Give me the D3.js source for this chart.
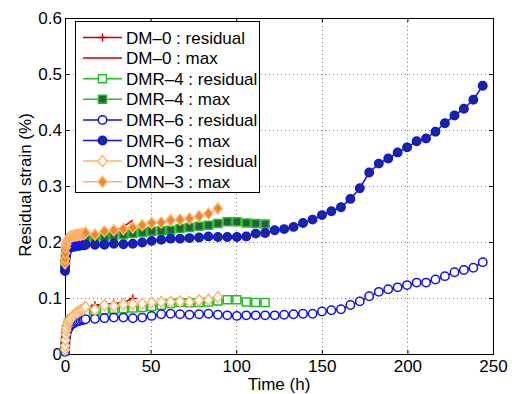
<!DOCTYPE html>
<html><head><meta charset="utf-8">
<script src="https://cdn.jsdelivr.net/npm/d3@7"></script>
<style>body{margin:0;background:#fff}svg{display:block}text{font-family:"Liberation Sans",Arial,sans-serif}</style>
</head><body><svg id="c" width="512" height="394"></svg>
<script>
// Shared sampling times (h)
const hours = [0, 0.1, 0.25, 0.5, 0.75, 1, 1.5, 2, 2.5, 3, 4, 5, 6, 7, 8, 9, 10, 11,
  12.0, 17.5, 23.0, 28.5, 34.1, 39.6, 45.1, 50.6, 56.2, 61.7, 67.2, 72.7, 78.3, 83.8, 89.3,
  94.8, 100.4, 105.9, 111.4, 116.9, 122.5, 128.0, 133.5, 139.0, 144.6, 150.1, 155.6, 161.2,
  166.7, 172.2, 177.7, 183.3, 188.8, 194.3, 199.8, 205.4, 210.9, 216.4, 221.9, 227.5, 233.0,
  238.5, 244.0];

const dm0Residual = [0.008, 0.016, 0.026, 0.037, 0.044, 0.049, 0.056, 0.060, 0.063, 0.066, 0.069, 0.071, 0.073, 0.075, 0.076, 0.077, 0.078, 0.079,
  0.083, 0.087, 0.089, 0.090, 0.092, 0.099];
const dm0Max = [0.160, 0.168, 0.176, 0.186, 0.192, 0.196, 0.199, 0.201, 0.202, 0.203, 0.204, 0.205, 0.205, 0.206, 0.206, 0.206, 0.207, 0.207,
  0.207, 0.212, 0.216, 0.220, 0.227, 0.239];

const dmr4Residual = [0.006, 0.013, 0.022, 0.032, 0.039, 0.044, 0.050, 0.054, 0.057, 0.059, 0.062, 0.064, 0.066, 0.068, 0.069, 0.070, 0.071, 0.072,
  0.074, 0.077, 0.079, 0.080, 0.081, 0.082, 0.083, 0.085, 0.087, 0.090, 0.092, 0.0915, 0.092, 0.093, 0.0946, 0.097, 0.097, 0.093, 0.092, 0.092];
const dmr4Max = [0.155, 0.162, 0.170, 0.180, 0.186, 0.190, 0.194, 0.196, 0.197, 0.198, 0.199, 0.200, 0.201, 0.202, 0.202, 0.203, 0.204, 0.204,
  0.205, 0.207, 0.209, 0.211, 0.213, 0.215, 0.217, 0.219, 0.220, 0.221, 0.224, 0.226, 0.228, 0.230, 0.233, 0.236, 0.236, 0.234, 0.233, 0.232];

const dmr6Residual = [0.004, 0.010, 0.018, 0.027, 0.033, 0.038, 0.043, 0.046, 0.049, 0.051, 0.053, 0.055, 0.057, 0.058, 0.059, 0.060, 0.061, 0.061,
  0.062, 0.063, 0.064, 0.065, 0.065, 0.064, 0.065, 0.068, 0.071, 0.072, 0.071, 0.070, 0.071, 0.072, 0.070,
  0.069, 0.068, 0.069, 0.069, 0.069, 0.069, 0.070, 0.071, 0.072, 0.072, 0.076, 0.078, 0.080,
  0.0875, 0.094, 0.103, 0.111, 0.1155, 0.119, 0.123, 0.1275, 0.1275, 0.133, 0.139, 0.146, 0.150,
  0.154, 0.164];
const dmr6Max = [0.148, 0.155, 0.163, 0.172, 0.178, 0.182, 0.186, 0.188, 0.189, 0.190, 0.191, 0.192, 0.192, 0.193, 0.193, 0.194, 0.194, 0.194,
  0.195, 0.195, 0.195, 0.197, 0.196, 0.197, 0.199, 0.202, 0.204, 0.206, 0.206, 0.207, 0.208, 0.210, 0.209,
  0.209, 0.209, 0.210, 0.215, 0.216, 0.221, 0.223, 0.227, 0.234, 0.240, 0.248, 0.255, 0.262,
  0.277, 0.296, 0.324, 0.340, 0.349, 0.360, 0.369, 0.380, 0.385, 0.397, 0.412, 0.426, 0.438,
  0.454, 0.479];

const dmn3Residual = [0.008, 0.015, 0.025, 0.035, 0.042, 0.047, 0.053, 0.057, 0.060, 0.062, 0.066, 0.069, 0.072, 0.074, 0.076, 0.078, 0.079, 0.081,
  0.084, 0.079, 0.087, 0.0857, 0.0888, 0.0888, 0.090, 0.0918, 0.093, 0.093, 0.094, 0.093, 0.096, 0.097, 0.102];
const dmn3Max = [0.162, 0.170, 0.180, 0.190, 0.196, 0.200, 0.204, 0.206, 0.208, 0.209, 0.210, 0.211, 0.212, 0.212, 0.213, 0.213, 0.214, 0.214,
  0.2167, 0.213, 0.219, 0.221, 0.2227, 0.2257, 0.230, 0.234, 0.2346, 0.2388, 0.240, 0.2418, 0.246, 0.2507, 0.2597];

const legendLabels = ["DM–0 : residual", "DM–0 : max", "DMR–4 : residual", "DMR–4 : max",
  "DMR–6 : residual", "DMR–6 : max", "DMN–3 : residual", "DMN–3 : max"];
const xTicks = [0, 50, 100, 150, 200, 250];
const yTicks = [0, 0.1, 0.2, 0.3, 0.4, 0.5, 0.6];
const xLabel = "Time (h)";
const yLabel = "Residual strain (%)";

const FS = 17;
const RED = "#cc0000", GREEN = "#1fc01f", BLUE = "#1010f0", ORANGE = "#ffb36e";
const shapes = {
  plus: "M-4,0H4M0,-4V4",
  square: "M-4,-4H4V4H-4Z",
  circle: "M4.2,0A4.2,4.2 0 1,1 -4.2,0A4.2,4.2 0 1,1 4.2,0Z",
  diamond: "M0,-5.5L4.5,0L0,5.5L-4.5,0Z",
  none: null
};
const series = [
  {values: dm0Residual, color: RED, shape: "plus", fill: "none"},
  {values: dm0Max, color: RED, shape: "none", fill: "none"},
  {values: dmr4Residual, color: GREEN, shape: "square", fill: "#fff"},
  {values: dmr4Max, color: GREEN, shape: "square", fill: "#2b5e3c"},
  {values: dmr6Residual, color: BLUE, shape: "circle", fill: "#fff"},
  {values: dmr6Max, color: BLUE, shape: "circle", fill: "#1a2a8c"},
  {values: dmn3Residual, color: ORANGE, shape: "diamond", fill: "#fff"},
  {values: dmn3Max, color: ORANGE, shape: "diamond", fill: "#e8882a"}
].map((s, i) => ({...s, label: legendLabels[i], pts: s.values.map((v, j) => [hours[j], v])}));

const svg = d3.select("#c");
const L = 65, R = 493, T = 18, B = 354;
const x = d3.scaleLinear().domain([0, 250]).range([L, R]);
const y = d3.scaleLinear().domain([0, 0.6]).range([B, T]);

// grid
const grid = svg.append("g").attr("stroke", "#777").attr("stroke-width", 1).attr("stroke-dasharray", "1,3");
grid.selectAll(".gx").data(xTicks.slice(1, -1)).join("line")
  .attr("x1", d => Math.round(x(d)) + 0.5).attr("x2", d => Math.round(x(d)) + 0.5).attr("y1", T).attr("y2", B);
grid.selectAll(".gy").data(yTicks.slice(1, -1)).join("line")
  .attr("y1", d => Math.round(y(d)) + 0.5).attr("y2", d => Math.round(y(d)) + 0.5).attr("x1", L).attr("x2", R);

// axes
function styleAxis(g) {
  g.select(".domain").remove();
  g.selectAll("text").attr("font-size", FS).attr("fill", "#000").attr("font-family", "Liberation Sans, Arial, sans-serif");
  g.selectAll("line").attr("stroke", "#000");
}
svg.append("g").attr("transform", `translate(0,${B})`)
  .call(d3.axisBottom(x).tickValues(xTicks).tickFormat(d3.format("d")).tickSizeInner(-4).tickSizeOuter(0).tickPadding(6)).call(styleAxis);
svg.append("g").attr("transform", `translate(0,${T})`)
  .call(d3.axisTop(x).tickValues(xTicks).tickFormat("").tickSizeInner(-4).tickSizeOuter(0)).call(styleAxis);
svg.append("g").attr("transform", `translate(${L},0)`)
  .call(d3.axisLeft(y).tickValues(yTicks).tickFormat(d => d === 0 ? "0" : d3.format(".1f")(d)).tickSizeInner(-4).tickSizeOuter(0).tickPadding(3)).call(styleAxis);
svg.append("g").attr("transform", `translate(${R},0)`)
  .call(d3.axisRight(y).tickValues(yTicks).tickFormat("").tickSizeInner(-4).tickSizeOuter(0)).call(styleAxis);

svg.append("rect").attr("x", L + 0.5).attr("y", T + 0.5).attr("width", R - L).attr("height", B - T)
  .attr("fill", "none").attr("stroke", "#000").attr("stroke-width", 1);

// series
const line = d3.line().x(d => x(d[0])).y(d => y(d[1]));
series.forEach(s => {
  const g = svg.append("g");
  g.append("path").attr("d", line(s.pts)).attr("fill", "none").attr("stroke", s.color).attr("stroke-width", 1.5);
  if (shapes[s.shape]) {
    g.selectAll("path.m").data(s.pts).join("path").attr("class", "m")
      .attr("d", shapes[s.shape]).attr("transform", d => `translate(${x(d[0])},${y(d[1])})`)
      .attr("fill", s.fill).attr("stroke", s.color).attr("stroke-width", 1.5);
  }
});

// labels
svg.append("text").attr("x", (L + R) / 2).attr("y", 390).attr("text-anchor", "middle").attr("font-size", FS).text(xLabel);
svg.append("text").attr("transform", "translate(31,185) rotate(-90)").attr("text-anchor", "middle").attr("font-size", FS).text(yLabel);

// legend
const lg = svg.append("g");
lg.append("rect").attr("x", 75.5).attr("y", 21.5).attr("width", 184).attr("height", 171).attr("fill", "#fff").attr("stroke", "#000");
series.forEach((s, i) => {
  const yc = 37.5 + 20.6 * i;
  lg.append("line").attr("x1", 83).attr("x2", 122).attr("y1", yc).attr("y2", yc).attr("stroke", s.color).attr("stroke-width", 1.5);
  if (shapes[s.shape]) lg.append("path").attr("d", shapes[s.shape]).attr("transform", `translate(102.5,${yc})`)
    .attr("fill", s.fill).attr("stroke", s.color).attr("stroke-width", 1.5);
  lg.append("text").attr("x", 126).attr("y", yc).attr("dy", "0.36em").attr("font-size", FS).text(s.label);
});
</script></body></html>
